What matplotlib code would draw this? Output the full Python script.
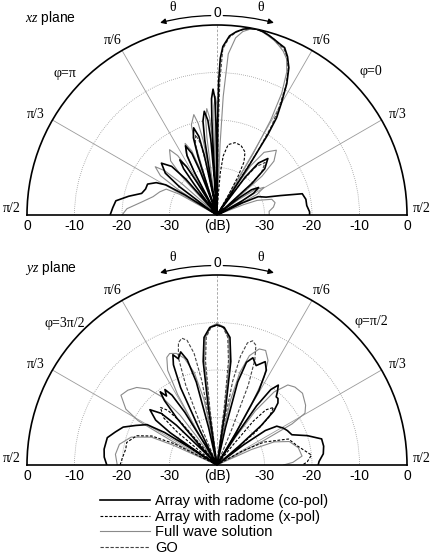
import numpy as np
import matplotlib
matplotlib.use('Agg')
import matplotlib.pyplot as plt

plt.rcParams.update({
    'font.family': ['Liberation Sans', 'DejaVu Sans'],
    'mathtext.fontset': 'custom',
    'mathtext.rm': 'Liberation Serif',
    'mathtext.it': 'Liberation Serif:italic',
})
SERIF = ['Liberation Serif', 'DejaVu Serif']

# ---- data: xz plane (theta in deg, level in dB), one lobe per line ----
xz_copol_theta = [-90, -86, -82, -78, -74, -70, -66, -62, -59.5, -58, -57.5,
                  -55, -54.4, -53, -51, -47, -43, -41, -39.6, -39,
                  -37.5, -37.2, -36.6, -35.8, -34, -32.2, -31.4, -30.8, -30.5,
                  -29, -28.6, -27.9, -26.8, -24.5, -22.2, -21.1, -20.4, -20,
                  -19, -18.7, -18, -17, -15, -13, -12, -11.3, -11,
                  -10, -9.8, -9.3, -8.5, -7, -5.5, -4.7, -4.2, -4,
                  -3.5, -3.4, -3.1, -2.7, -1.8, -1.0, -0.7, -0.45, -0.3,
                  0, 0.3, 0.7, 1.2, 2, 4, 6, 8, 10, 12, 14, 16, 18, 20, 22, 24, 26, 28, 30, 31.5, 32.3, 33, 33.5,
                  35, 35.6, 36.7, 38.6, 42, 45.9, 47.8, 48.9, 49.5,
                  51, 51.5, 52.3, 53.8, 56.5, 59.2, 60.7, 61.5, 62,
                  64, 64.5, 66, 70, 73, 76, 80, 84, 88, 90]
xz_copol_db = [-17.5, -18, -18.5, -21, -23.5, -24, -24, -25.5, -27.5, -32, -40,
               -40, -38, -30, -26, -24, -26, -30, -38, -40,
               -40, -36, -32, -28, -26, -28, -32, -36, -40,
               -40, -37, -30, -26, -24, -26, -30, -37, -40,
               -40, -35, -27, -23, -21, -23, -27, -35, -40,
               -40, -32, -24, -20, -18, -20, -24, -32, -40,
               -40, -28, -20, -15.5, -13.5, -15.5, -20, -28, -40,
               -40, -22, -12, -7, -4.5, -2.2, -1.2, -0.5, -0.1, 0, -0.2, -0.6, -1.1, -1.6, -2.0, -3.5, -5.5, -8.7, -13, -16, -20, -28, -40,
               -40, -38, -30, -26, -24, -26, -30, -38, -40,
               -40, -38, -34, -31, -29.5, -31, -34, -38, -40,
               -40, -34, -30.5, -29, -26, -21.5, -21, -21, -20.5, -20.5]

xz_xpol_theta = [-12, -11, -8.5, -6, -5,
                 3, 3.5, 4.5, 6, 9, 14, 19, 24, 27, 28.7, 29.8, 30.5]
xz_xpol_db = [-40, -37, -35, -37, -40,
              -40, -36, -31, -27.5, -25, -24.3, -24.5, -25.5, -27.5, -31, -35, -40]

xz_full_theta = [-90, -86, -80, -74, -68, -63, -61, -60,
                 -58, -57.6, -56.7, -55.2, -52, -49.8, -48.3, -47.4, -47,
                 -44, -43.5, -42.4, -40.6, -36, -33.5, -32, -31, -30.5,
                 -29, -28.6, -27.8, -26.5, -24, -21.5, -20.2, -19.4, -19,
                 -18, -17.7, -17, -15.9, -13, -11.6, -10.5, -9.8, -9.5,
                 -8, -7.8, -7.4, -6.7, -5.5, -4.3, -3.6, -3.2, -3,
                 -2.5, -2.35, -2.0, -1.6, -0.8, 0, 0.7, 1.2, 1.5,
                 2, 2.5, 3, 4, 6, 8, 10, 12, 14, 16, 18, 20, 22, 24, 26, 28, 29.5, 30.5, 31,
                 32, 32.8, 34.3, 36.9, 42.5, 46.6, 49.2, 50.7, 51.5,
                 53, 53.5, 54.6, 56.3, 59.5, 62.7, 64.4, 65.5, 66,
                 68, 68.7, 70, 74, 78, 82, 86, 90]
xz_full_db = [-20, -21, -24, -26, -27, -28, -31, -40,
              -40, -37, -30, -25.5, -23.5, -25.5, -30, -37, -40,
              -40, -37, -29, -25, -23, -25, -29, -37, -40,
              -40, -37, -29.5, -25.5, -23.5, -25.5, -29.5, -37, -40,
              -40, -32, -24, -20.3, -18.3, -20.3, -24, -32, -40,
              -40, -31, -23.5, -19.5, -17.5, -19.5, -23.5, -31, -40,
              -40, -29, -21, -17, -15, -17, -21, -29, -40,
              -40, -25, -15, -6, -2.5, -1, -0.3, 0, -0.3, -0.8, -1.3, -2, -2.8, -4, -6.5, -11, -17, -25, -40,
              -40, -35.5, -27.5, -23.5, -21.5, -23.5, -27.5, -35.5, -40,
              -40, -39, -34.5, -30.5, -28.5, -30.5, -34.5, -39, -40,
              -40, -34, -31, -28, -27.5, -28, -29, -29]

xz_go_theta = [-19, -18.7, -18, -17, -15, -13, -12, -11.3, -11,
               0.5, 0.8, 1.2, 2, 4, 6, 8, 10, 12, 14, 16, 18, 20, 22, 24, 26, 28, 30, 31.5, 32.5, 33.5,
               35, 35.6, 36.8, 38.8, 42.5, 46.2, 48.2, 49.4, 50]
xz_go_db = [-40, -36, -28.5, -24.5, -22.5, -24.5, -28.5, -36, -40,
            -40, -22, -12, -5, -2.5, -1.3, -0.6, -0.1, 0, -0.2, -0.6, -1.1, -1.8, -2.3, -3.7, -5.8, -9, -14, -18, -24, -40,
            -40, -38, -31, -27, -25, -27, -31, -38, -40]

# ---- data: yz plane ----
yz_copol_theta = [-90, -86, -82, -76, -72, -68, -64, -60, -58.2, -57.4, -57,
                  -56.5, -55.4, -53.8, -50.5, -47.2, -45.6, -44.5, -44,
                  -42, -41.5, -40.6, -39.2, -37.8, -36.2, -34.6, -32.8, -31.4, -30.5, -30,
                  -27, -26.4, -25.2, -23.5, -21.8, -20, -17.8, -15.8, -14, -12.6, -12,
                  -9, -8.6, -7.6, -5.8, -3, 0, 3, 5.8, 7.6, 8.6, 9,
                  12, 12.7, 14, 16, 18.5, 21.5, 25, 27.5, 29.4, 30.4, 31,
                  32, 32.6, 33.8, 35.5, 37.5, 39.5, 41, 42.5, 44.5, 46.5, 48.2, 49.4, 50,
                  52, 52.8, 54.5, 57, 61, 64, 68, 72, 76, 80, 84, 88, 90]
yz_copol_db = [-16.8, -16.2, -16, -16.2, -17.5, -18.7, -21, -23, -27, -33, -40,
               -36, -28, -24, -21.7, -24, -28, -36, -40,
               -40, -35, -27, -22.5, -20.5, -22, -20.7, -22.5, -27, -35, -40,
               -40, -32, -22, -17, -15, -16.2, -15, -17, -22, -32, -40,
               -40, -28, -18, -13, -11, -10.5, -11, -13, -18, -28, -40,
               -40, -32, -22, -17.5, -16.2, -17.5, -16, -17.5, -22, -32, -40,
               -40, -33, -25, -20.5, -18.8, -20, -21, -21, -21.7, -23.5, -27.5, -34, -40,
               -40, -33, -27.5, -25, -24, -23.5, -23, -20, -17.3, -17.2, -17.5, -18.5, -18.7]

yz_xpol_theta = [-90, -86, -80, -76, -70, -66, -63.5, -62,
                 -52, -51.4, -50.3, -48.5, -44.5, -42, -40.2, -38.6, -38,
                 38, 38.5, 39.6, 41.5, 44.5, 47.2, 49.4, 50.5, 51,
                 60, 61, 64, 70, 77, 84, 88, 90]
yz_xpol_db = [-19.6, -20, -20.5, -20.4, -22, -25, -30, -40,
              -40, -36, -29, -25, -23, -24.5, -28, -35, -40,
              -40, -35, -28, -24.5, -23, -25, -29, -36, -40,
              -40, -34, -29, -24, -22.5, -20, -21, -22]

yz_full_theta = [-90, -84, -78, -72, -67, -65.6, -65,
                 -63, -62.2, -60.7, -58.5, -54, -50, -46, -42, -39, -36.5, -35.4, -35,
                 -31, -30.4, -29.2, -27.5, -25, -23, -20, -17, -13.8, -11.2, -10.4, -10,
                 -8, -7.6, -6.8, -5.2, -2.5, 0, 2.5, 5.2, 6.8, 7.6, 8,
                 10, 10.6, 11.8, 13.8, 16.5, 20, 23, 26, 28.2, 30, 30.6, 31,
                 33, 33.8, 35.3, 38, 41.5, 45, 50, 56, 59.5, 61.3, 62.4, 63,
                 65, 65.8, 68, 72, 78, 84, 88, 90]
yz_full_db = [-19, -18.5, -19, -21, -25, -30, -40,
              -40, -30, -21, -17.5, -15, -15.5, -16.5, -18.5, -21.5, -27, -33, -40,
              -40, -32, -23, -17.5, -15, -14.5, -15, -16.5, -20, -26, -33, -40,
              -40, -28, -18, -13, -10.8, -10.2, -10.8, -13, -18, -28, -40,
              -40, -33, -26, -20, -16, -14, -13.8, -15.5, -19, -26, -33, -40,
              -40, -33, -26, -20.5, -17.5, -16.8, -16.5, -17.5, -18.5, -22, -29, -40,
              -40, -32, -27, -24, -22.5, -22, -24, -26]

yz_go_theta = [-23, -22.5, -21.4, -19.8, -17.5, -15.5, -13.5, -11.6, -10.2, -9.5, -9,
               -7.5, -7.2, -6.3, -4.8, -2.5, 0, 2.5, 4.8, 6.3, 7.2, 7.5,
               9, 9.5, 10.6, 12.2, 14, 16, 18, 19.8, 21.4, 22.5, 23]
yz_go_db = [-40, -32, -22, -16, -13, -12.3, -13, -16, -22, -32, -40,
            -40, -28, -18, -13, -11, -10.6, -11, -13, -18, -28, -40,
            -40, -32, -22, -16.5, -13.5, -12.8, -13.5, -16.5, -22, -32, -40]

db_ticks = [0, -10, -20, -30]
legend_labels = ['Array with radome (co-pol)', 'Array with radome (x-pol)',
                 'Full wave solution', 'GO']

GRID = '#9a9a9a'
W, H = 430, 558


def setup(ax, phi_left, phi_right):
    ax.set_theta_zero_location('N')
    ax.set_theta_direction(-1)
    ax.set_thetamin(-90)
    ax.set_thetamax(90)
    ax.set_ylim(-40, 0)
    ax.set_xticks(np.radians(np.arange(-85, 90, 5)))
    ax.set_xticklabels([])
    ax.tick_params(axis='x', direction='in', length=6, width=0.8)
    ax.set_yticks([-30, -20, -10])
    ax.set_yticklabels([])
    ax.tick_params(axis='y', length=0)
    ax.xaxis.grid(False)
    ax.yaxis.grid(True, color=GRID, lw=0.6, ls=(0, (1, 1.5)))
    for s in ['polar', 'start', 'end']:
        ax.spines[s].set_linewidth(1.2)
    for a in [-60, -30, 30, 60]:
        ax.plot([np.radians(a)] * 2, [-40, 0], color=GRID, lw=0.6, zorder=1)
    ax.plot([0, 0], [-40, 0], color=GRID, lw=0.6, ls=(0, (3, 2)), zorder=1)

    # angle labels
    ax.text(0, 2.5, '0', ha='center', va='center', fontsize=10)
    for a, r, s in [(-31, 2.8, 'π/6'), (31, 2.8, 'π/6'),
                    (-61, 3.6, 'π/3'), (61, 3.6, 'π/3'),
                    (-88.3, 3.2, 'π/2'), (88.3, 3.2, 'π/2')]:
        ax.text(np.radians(a), r, s, ha='center', va='center', fontsize=10, family=SERIF)
    ax.text(np.radians(-47), 3.8, phi_left, ha='center', va='center', fontsize=10, family=SERIF)
    ax.text(np.radians(47), 4.4, phi_right, ha='center', va='center', fontsize=10, family=SERIF)
    ax.text(np.radians(-12), 4.6, 'θ', ha='center', va='center', fontsize=10, family=SERIF)
    ax.text(np.radians(12), 4.6, 'θ', ha='center', va='center', fontsize=10, family=SERIF)
    ax.annotate('', xy=(np.radians(-16.5), 2.2), xytext=(np.radians(-1.8), 2.0),
                arrowprops=dict(arrowstyle='-|>', color='black', lw=0.9,
                                mutation_scale=8, shrinkA=0, shrinkB=0,
                                connectionstyle='arc3,rad=0.06'),
                annotation_clip=False)
    ax.annotate('', xy=(np.radians(16.5), 2.2), xytext=(np.radians(1.8), 2.0),
                arrowprops=dict(arrowstyle='-|>', color='black', lw=0.9,
                                mutation_scale=8, shrinkA=0, shrinkB=0,
                                connectionstyle='arc3,rad=-0.06'),
                annotation_clip=False)

    # dB labels along baseline
    for v in db_ticks:
        for side in [-90, 90]:
            ax.annotate(str(v), xy=(np.radians(side), v), xytext=(0, -3),
                        textcoords='offset points', ha='center', va='top',
                        fontsize=10, annotation_clip=False)
    ax.annotate('(dB)', xy=(0, -40), xytext=(0, -3), textcoords='offset points',
                ha='center', va='top', fontsize=10, annotation_clip=False)


def draw(ax, th_c, db_c, th_x, db_x, th_f, db_f, th_g, db_g):
    ax.plot(np.radians(th_f), db_f, color='#8a8a8a', lw=0.8, zorder=2, label=legend_labels[2])
    ax.plot(np.radians(th_g), db_g, color='#444444', lw=0.8, ls=(0, (3, 1.5)), zorder=3, label=legend_labels[3])
    ax.plot(np.radians(th_x), db_x, color='black', lw=0.8, ls=(0, (2.5, 1.5)), zorder=3, label=legend_labels[1])
    ax.plot(np.radians(th_c), db_c, color='black', lw=1.2, zorder=4, label=legend_labels[0])


def polar_box(cx, cy, r):
    # square box (pixels) holding a half-disk of radius r centred at (cx, cy)
    top = cy - r / 2 - r
    return [(cx - r) / W, 1 - (top + 2 * r) / H, 2 * r / W, 2 * r / H]


fig = plt.figure(figsize=(4.3, 5.58), dpi=100)
ax1 = fig.add_axes(polar_box(217, 215, 190), projection='polar')
ax2 = fig.add_axes(polar_box(217, 465, 190), projection='polar')

setup(ax1, 'φ=π', 'φ=0')
setup(ax2, 'φ=3π/2', 'φ=π/2')
fig.text(25 / W, 1 - 18 / H, r'$xz$ plane', ha='left', va='center', fontsize=10)
fig.text(25 / W, 1 - 268 / H, r'$yz$ plane', ha='left', va='center', fontsize=10)

draw(ax1, xz_copol_theta, xz_copol_db, xz_xpol_theta, xz_xpol_db,
     xz_full_theta, xz_full_db, xz_go_theta, xz_go_db)
draw(ax2, yz_copol_theta, yz_copol_db, yz_xpol_theta, yz_xpol_db,
     yz_full_theta, yz_full_db, yz_go_theta, yz_go_db)

handles, labels = ax2.get_legend_handles_labels()
order = [labels.index(l) for l in legend_labels]
fig.legend([handles[i] for i in order], [labels[i] for i in order],
           loc='upper left', bbox_to_anchor=(100 / W, 1 - 494 / H),
           frameon=False, fontsize=10.5, handlelength=3.4, handletextpad=0.4,
           labelspacing=0.12, borderpad=0, borderaxespad=0)

fig.savefig('out.png', dpi=100, facecolor='white')
